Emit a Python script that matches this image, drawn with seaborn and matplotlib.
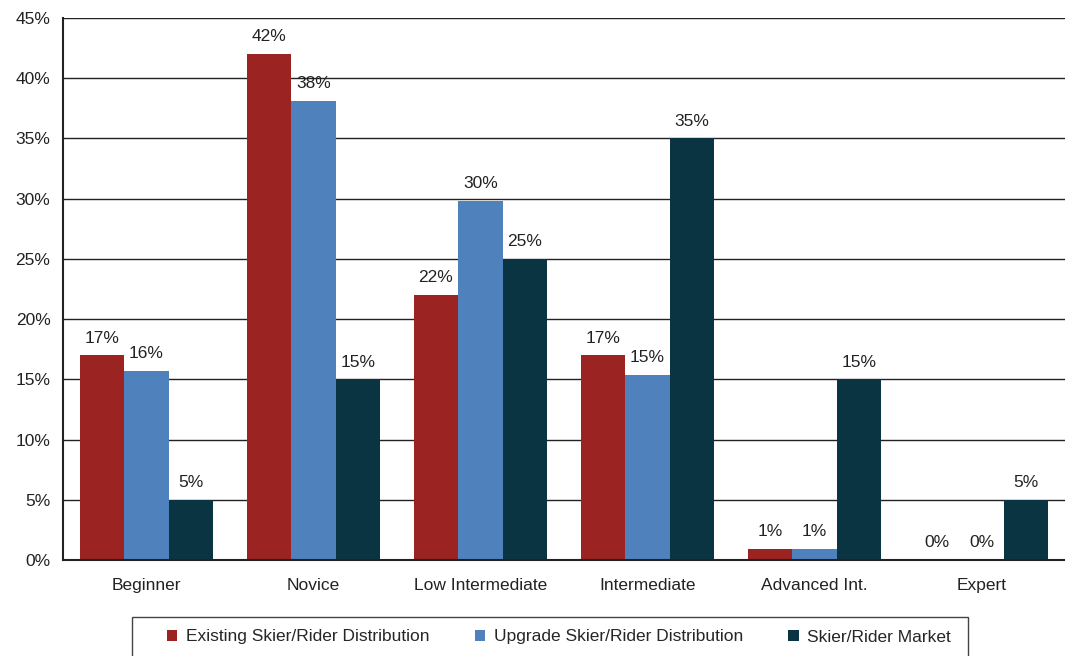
import matplotlib
matplotlib.use("Agg")
import matplotlib.pyplot as plt
import seaborn as sns
import pandas as pd
from matplotlib.ticker import MultipleLocator, FuncFormatter
from matplotlib.patches import Patch, Rectangle

categories = ["Beginner", "Novice", "Low Intermediate", "Intermediate", "Advanced Int.", "Expert"]
series_names = ["Existing Skier/Rider Distribution", "Upgrade Skier/Rider Distribution", "Skier/Rider Market"]
existing = [17.0, 42.0, 22.0, 17.0, 0.9, 0.0]
upgrade = [15.7, 38.1, 29.8, 15.4, 0.9, 0.0]
market = [5.0, 15.0, 25.0, 35.0, 15.0, 5.0]
labels_existing = ["17%", "42%", "22%", "17%", "1%", "0%"]
labels_upgrade = ["16%", "38%", "30%", "15%", "1%", "0%"]
labels_market = ["5%", "15%", "25%", "35%", "15%", "5%"]
colors = ["#9B2423", "#4F81BD", "#0B3442"]

rows = []
for name, vals in zip(series_names, [existing, upgrade, market]):
    for c, v in zip(categories, vals):
        rows.append({"category": c, "series": name, "value": v})
df = pd.DataFrame(rows)

sns.set_theme(style="white")
plt.rcParams['font.family'] = ['Liberation Sans Narrow', 'Liberation Sans', 'DejaVu Sans']

W, H = 1065, 656
fig = plt.figure(figsize=(W/100, H/100), dpi=100)
ax = fig.add_axes([63/W, 1-560/H, 1002/W, 542/H])

sns.barplot(data=df, x="category", y="value", hue="series", order=categories,
            hue_order=series_names, palette=colors, width=0.8, saturation=1,
            edgecolor="none", linewidth=0, ax=ax, legend=False, zorder=3)

ax.set_ylim(0, 45)
ax.set_xlim(-0.5, len(categories) - 0.5)
ax.yaxis.set_major_locator(MultipleLocator(5))
ax.yaxis.set_major_formatter(FuncFormatter(lambda v, p: f"{int(round(v))}%"))
ax.grid(axis="y", color="#222222", linewidth=1.0, zorder=0)
ax.set_axisbelow(True)
ax.set_xlabel("")
ax.set_ylabel("")
for s in ["top", "right"]:
    ax.spines[s].set_visible(False)
for s in ["left", "bottom"]:
    ax.spines[s].set_color("#222222")
    ax.spines[s].set_linewidth(1.5)
    ax.spines[s].set_zorder(4)
ax.tick_params(axis="both", labelsize=12.5, colors="#222222", length=0)
ax.tick_params(axis="x", pad=13)
ax.tick_params(axis="y", pad=9)

all_labels = [labels_existing, labels_upgrade, labels_market]
for cont, labs in zip(ax.containers, all_labels):
    ax.bar_label(cont, labels=labs, padding=7, fontsize=12.5, color="#222222")

# legend frame
fig.patches.append(Rectangle((132/W, -0.02), (968-132)/W, (656-617)/H + 0.02,
                             transform=fig.transFigure, facecolor="white",
                             edgecolor="#444444", linewidth=1.0, zorder=1))
handles = [Patch(facecolor=c, edgecolor="none") for c in colors]
leg = fig.legend(handles, series_names, loc="center",
                 bbox_to_anchor=(559/W, 1-637/H),
                 ncol=3, frameon=False, fontsize=12.5,
                 handlelength=0.6, handleheight=0.6, handletextpad=0.5,
                 columnspacing=2.6, borderpad=0, borderaxespad=0)
leg.set_zorder(5)

fig.savefig("out.png", dpi=100)
